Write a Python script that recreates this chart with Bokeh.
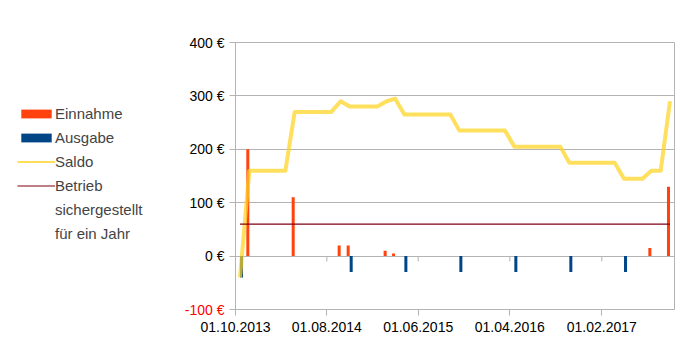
import pandas as pd
from bokeh.plotting import figure
from bokeh.layouts import row
from bokeh.models import (Range1d, FixedTicker, DatetimeTickFormatter, Legend, LegendItem,
                          Label)
from bokeh.embed import file_html
from bokeh.resources import INLINE

# ---------------- data ----------------
start_month = "2013-10-01"
end_month = "2017-10-01"
n_months = 48
months = pd.date_range(start_month, periods=n_months, freq="MS")

einnahme_months = ["2013-11-01", "2014-04-01", "2014-09-01", "2014-10-01",
                   "2015-02-01", "2015-03-01", "2017-07-01", "2017-09-01"]
einnahme = [200, 110, 20, 20, 10, 5, 15, 130]

ausgabe_months = ["2013-10-01", "2014-10-01", "2015-04-01", "2015-10-01",
                  "2016-04-01", "2016-10-01", "2017-04-01"]
ausgabe = [-40, -30, -30, -30, -30, -30, -30]

saldo = [-40,
         160, 160, 160, 160, 160,
         270, 270, 270, 270, 270,
         290,
         280, 280, 280, 280,
         290, 295,
         265, 265, 265, 265, 265, 265,
         235, 235, 235, 235, 235, 235,
         205, 205, 205, 205, 205, 205,
         175, 175, 175, 175, 175, 175,
         145, 145, 145,
         160, 160,
         290]

betrieb_level = 60
betrieb = [betrieb_level] * n_months

tick_dates = ["2013-10-01", "2014-08-01", "2015-06-01", "2016-04-01", "2017-02-01"]
y_ticks = [-100, 0, 100, 200, 300, 400]
y_labels = {400: "400 €", 300: "300 €", 200: "200 €", 100: "100 €", 0: "0 €", -100: ""}
neg_tick = -100
neg_label = "-100 €"

legend_labels = ["Einnahme", "Ausgabe", "Saldo", "Betrieb", "sichergestellt", "für ein Jahr"]

# ---------------- styling ----------------
C_EIN = "#ff420e"
C_AUS = "#004586"
C_SAL = "#ffd320"
C_BET = "#800010"
GRID = "#b3b3b3"
FONT = "Liberation Sans"
LEFT_W = 145
W, H = 691, 340

half_month = pd.Timedelta(days=15)
bar_off = pd.Timedelta(days=5)
bar_w = pd.Timedelta(days=10).total_seconds() * 1000

centers = months + half_month
ein_x = pd.to_datetime(einnahme_months) + half_month - bar_off
aus_x = pd.to_datetime(ausgabe_months) + half_month + bar_off

x0 = pd.Timestamp(start_month)
p = figure(width=W - LEFT_W, height=H, output_backend="svg", toolbar_location=None,
           x_axis_type="datetime",
           x_range=Range1d(x0, pd.Timestamp(end_month)),
           y_range=Range1d(-100, 400),
           min_border_left=235 - LEFT_W, min_border_right=17, min_border_top=42,
           min_border_bottom=31)

p.background_fill_color = "white"
p.border_fill_color = "white"
p.outline_line_color = GRID
p.outline_line_width = 1

# axes
p.xaxis.ticker = FixedTicker(ticks=[pd.Timestamp(d).value / 1e6 for d in tick_dates])
p.xaxis.formatter = DatetimeTickFormatter(days="%d.%m.%Y", months="%d.%m.%Y", years="%d.%m.%Y",
                                          hours="%d.%m.%Y", minutes="%d.%m.%Y")
p.yaxis.ticker = FixedTicker(ticks=y_ticks)
p.yaxis.major_label_overrides = y_labels
for ax in (p.xaxis[0], p.yaxis[0]):
    ax.axis_line_color = GRID
    ax.major_tick_line_color = GRID
    ax.minor_tick_line_color = None
    ax.major_tick_out = 6
    ax.major_tick_in = 0
    ax.major_label_text_font = FONT
    ax.major_label_text_font_size = "14px"
    ax.major_label_text_color = "black"
    ax.major_label_standoff = 5
p.xaxis.major_label_standoff = 6

# red label for the negative tick, in the left side panel (outside the frame)
p.add_layout(Label(x=78, y=neg_tick, x_units="screen", y_units="data", text=neg_label,
                   text_color="#ff0000", text_font=FONT, text_font_size="14px",
                   text_align="right", text_baseline="middle"), "left")

p.xgrid.grid_line_color = None
p.ygrid.grid_line_color = GRID
p.ygrid.ticker = FixedTicker(ticks=y_ticks)

# small ticks on the zero line
zt = pd.to_datetime(tick_dates[1:])
p.segment(x0=zt, y0=[0] * len(zt), x1=zt, y1=[-10] * len(zt), line_color=GRID, line_width=1)

# bars
p.vbar(x=ein_x, top=einnahme, bottom=0, width=bar_w, fill_color=C_EIN, line_color=None)
p.vbar(x=aus_x, top=0, bottom=ausgabe, width=bar_w, fill_color=C_AUS, line_color=None)

# lines
p.line(x=centers, y=saldo, line_color=C_SAL, line_width=4, line_alpha=0.72, line_join="round")
p.line(x=centers, y=betrieb, line_color=C_BET, line_width=1.2)

# ---------------- legend panel (left) ----------------
lp = figure(width=LEFT_W, height=H, output_backend="svg", toolbar_location=None,
            x_range=Range1d(0, 1), y_range=Range1d(0, 1),
            x_axis_location=None, y_axis_location=None,
            min_border_left=0, min_border_right=0, min_border_top=0, min_border_bottom=0)
lp.outline_line_color = None
lp.grid.visible = False
lp.background_fill_color = "white"
lp.border_fill_color = "white"

nan = float("nan")
off = dict(x=[nan, nan], y=[nan, nan])  # no visible data: legend swatches only
g_ein = lp.vbar(x=[nan], top=[nan], bottom=nan, width=0.1, fill_color=C_EIN, line_color=None)
g_aus = lp.vbar(x=[nan], top=[nan], bottom=nan, width=0.1, fill_color=C_AUS, line_color=None)
g_sal = lp.line(line_color=C_SAL, line_width=1.5, **off)
g_bet = lp.line(line_color=C_BET, line_width=1.2, **off)
g_none = lp.line(line_color="white", line_alpha=0, **off)

legend = Legend(items=[LegendItem(label=legend_labels[0], renderers=[g_ein]),
                       LegendItem(label=legend_labels[1], renderers=[g_aus]),
                       LegendItem(label=legend_labels[2], renderers=[g_sal]),
                       LegendItem(label=legend_labels[3], renderers=[g_bet]),
                       LegendItem(label=legend_labels[4], renderers=[g_none]),
                       LegendItem(label=legend_labels[5], renderers=[g_none])],
                location=(17, 67))
legend.label_text_font = FONT
legend.label_text_font_size = "15px"
legend.glyph_width = 38
legend.glyph_height = 11
legend.label_standoff = 0
legend.spacing = 7
legend.padding = 0
legend.margin = 0
legend.border_line_alpha = 0
legend.background_fill_alpha = 0
lp.add_layout(legend, "center")

layout = row(lp, p, spacing=0)
open("out.html", "w").write(file_html(layout, INLINE))
